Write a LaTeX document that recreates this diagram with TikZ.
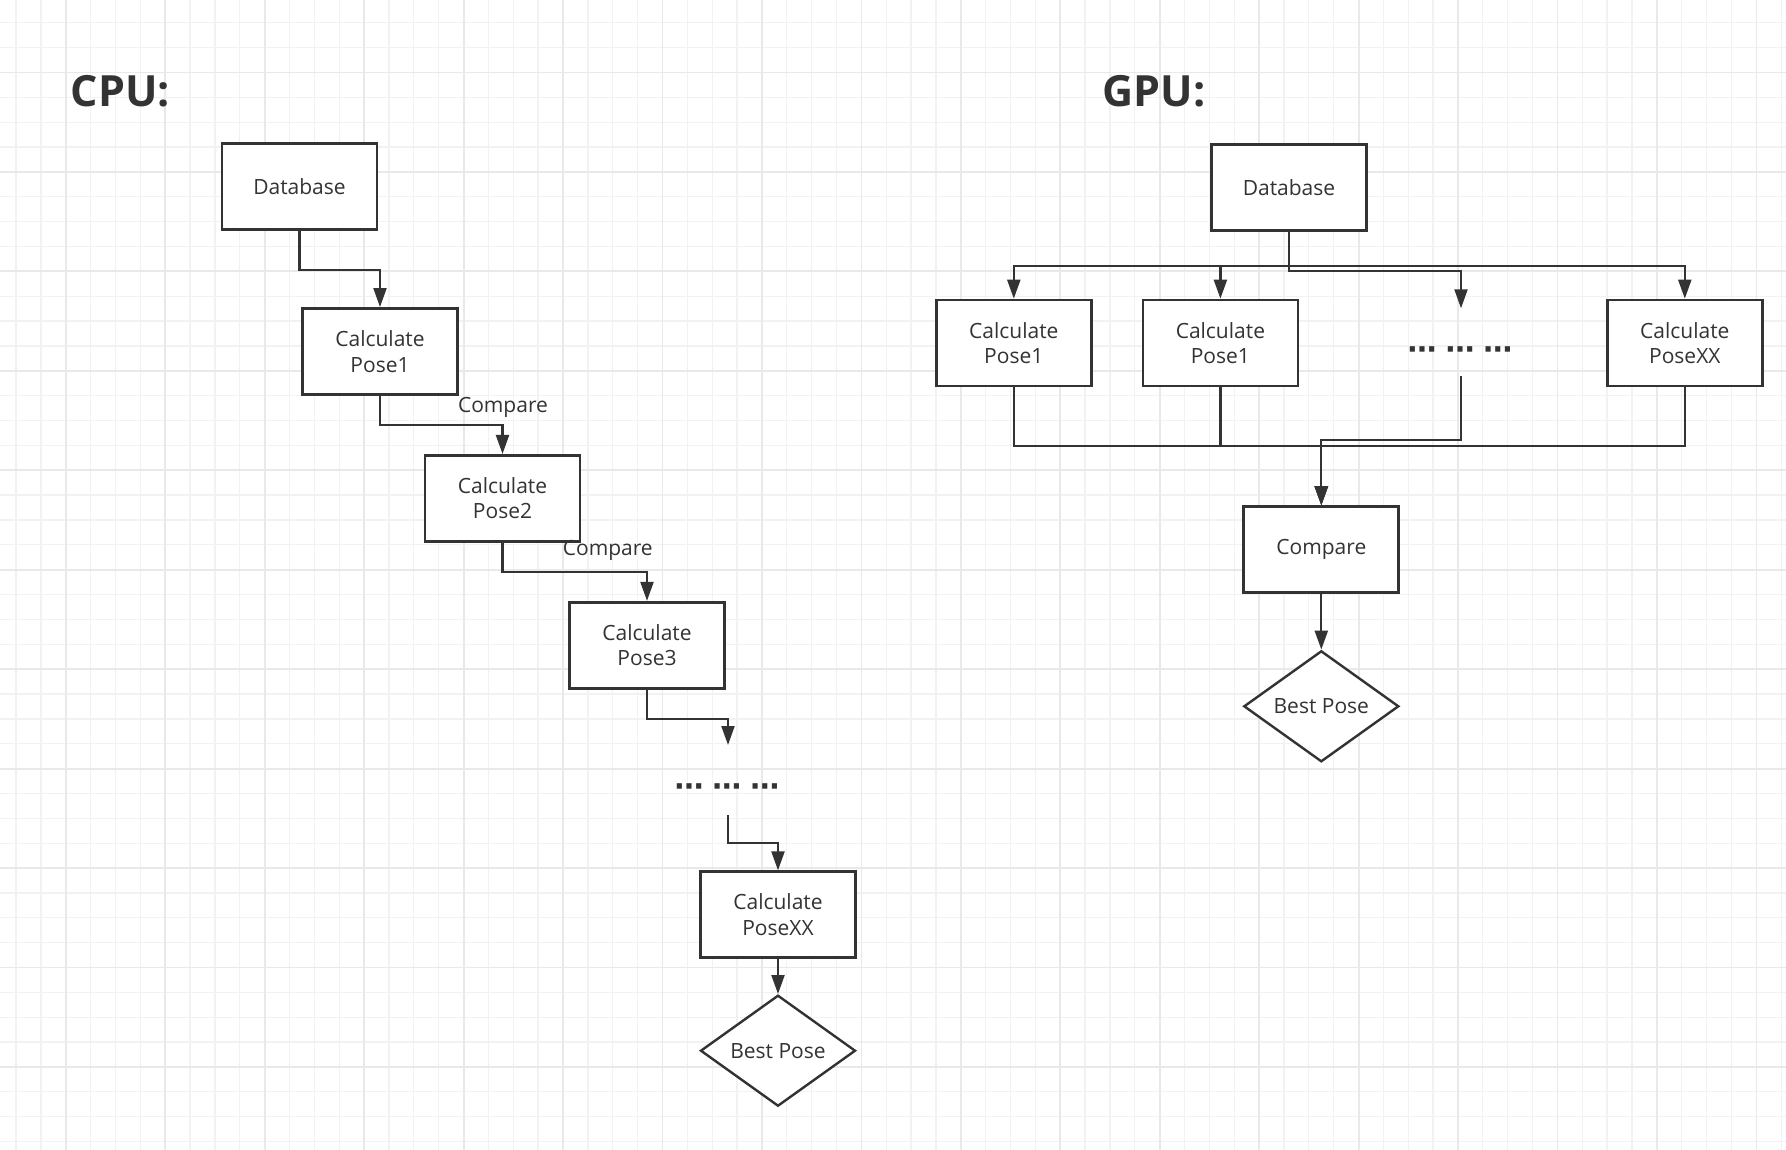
\documentclass[tikz,border=0pt]{standalone}
\usepackage{fontspec}
\setmainfont{Open Sans}
\newfontfamily\dejavu{DejaVu Sans}
\usetikzlibrary{arrows.meta,shapes.geometric}
\definecolor{ink}{HTML}{333333}
\definecolor{gridminor}{HTML}{F2F2F2}
\definecolor{gridmajor}{HTML}{E9E9E9}
\begin{document}
\begin{tikzpicture}[x=1pt,y=-1pt,
  txt/.style={text=ink, font=\fontsize{21}{25.5}\selectfont},
  box/.style={txt, draw=ink, line width=2.7pt, fill=white, minimum width=155pt, minimum height=86pt, align=center, inner sep=0pt},
  dec/.style={txt, diamond, draw=ink, line width=2.4pt, fill=white, minimum width=155pt, minimum height=111pt, inner sep=0pt},
  conn/.style={draw=ink, line width=2.2pt, -{Triangle[length=19pt,width=13pt]}},
  lbl/.style={txt, inner sep=0pt, anchor=base},
  dots/.style={text=ink, font=\dejavu\bfseries\fontsize{29}{32}\selectfont, inner sep=0pt},
  title/.style={text=ink, font=\fontsize{43}{50}\selectfont\bfseries, inner sep=0pt, anchor=base west}]
\useasboundingbox (0,0) rectangle (1786,1150);
\fill[white] (0,0) rectangle (1786,1150);
\begin{scope}
  \clip (0,0) rectangle (1786,1150);
  \foreach \i in {-3,...,72} {\draw[gridminor, line width=1.3pt] ({65.8+24.86*\i},0) -- ++(0,1150);}
  \foreach \i in {-3,...,46} {\draw[gridminor, line width=1.3pt] (0,{72.5+24.86*\i}) -- ++(1786,0);}
  \foreach \i in {-1,...,18} {\draw[gridmajor, line width=1.8pt] ({65.8+99.45*\i},0) -- ++(0,1150);}
  \foreach \i in {-1,...,11} {\draw[gridmajor, line width=1.8pt] (0,{72.5+99.45*\i}) -- ++(1786,0);}
\end{scope}

% titles
\node[title] (tcpu) at (70.7,107) {CPU:};
\node[title] (tgpu) at (1102.5,107) {GPU:};

% CPU side
\node[box] (db1) at (299.5,186.3) {Database};
\node[box] (c1) at (380,351.4) {Calculate\\Pose1};
\node[box] (c2) at (502.5,498.3) {Calculate\\Pose2};
\node[box] (c3) at (647,645.2) {Calculate\\Pose3};
\node[dots] (d1) at (727,790) {⋯\hspace{9pt}⋯\hspace{9pt}⋯};
\coordinate (d1in) at (728,745);
\coordinate (d1out) at (728,815);
\node[box] (cxx) at (778,914.7) {Calculate\\PoseXX};
\node[dec] (b1) at (778,1050.7) {Best Pose};

\draw[conn] (db1.south) -- ++(0,39.5) -| (c1.north);
\draw[conn] (c1.south) -- ++(0,29.6) -| (c2.north);
\draw[conn] (c2.south) -- ++(0,29.4) -| (c3.north);
\draw[conn] (c3.south) -- ++(0,29.1) -| (d1in);
\draw[conn] (d1out) -- ++(0,27.7) -| (cxx.north);
\draw[conn] (cxx.south) -- (b1.north);
\node[lbl] (l1) at (503,412.3) {Compare};
\node[lbl] (l2) at (607.8,555.7) {Compare};

% GPU side
\node[box] (db2) at (1289,187.2) {Database};
\node[box] (g1) at (1013.8,343) {Calculate\\Pose1};
\node[box] (g2) at (1220.4,343) {Calculate\\Pose1};
\node[dots] (d2) at (1460,353.3) {⋯\hspace{9pt}⋯\hspace{9pt}⋯};
\coordinate (d2in) at (1461,308.3);
\coordinate (d2out) at (1461,376);
\node[box] (gxx) at (1684.8,343) {Calculate\\PoseXX};
\node[box] (cmp) at (1321.3,549.5) {Compare};
\node[dec] (b2) at (1321.3,706.3) {Best Pose};

\draw[conn] (db2.south) -- ++(0,34.3) -| (g1.north);
\draw[conn] (db2.south) -- ++(0,34.3) -| (g2.north);
\draw[conn] (db2.south) -- ++(0,34.3) -| (gxx.north);
\draw[conn] (db2.south) -- ++(0,39.3) -| (d2in);
\draw[conn] (g1.south) -- ++(0,59) -| (cmp.north);
\draw[conn] (g2.south) -- ++(0,59) -| (cmp.north);
\draw[conn] (gxx.south) -- ++(0,59) -| (cmp.north);
\draw[conn] (d2out) -- ++(0,64) -| (cmp.north);
\draw[conn] (cmp.south) -- (b2.north);
\end{tikzpicture}
\end{document}
